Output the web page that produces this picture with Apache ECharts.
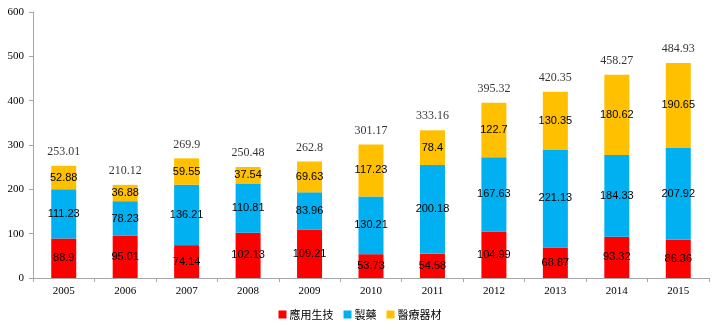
<!DOCTYPE html>
<html>
<head>
<meta charset="utf-8">
<script src="https://cdn.jsdelivr.net/npm/echarts@6/dist/echarts.min.js"></script>
<style>
  html, body { margin: 0; padding: 0; background: #fff; }
  #chart { width: 720px; height: 333px; }
</style>
</head>
<body>
<div id="chart"></div>
<script>
// Years on the category axis
const years = ['2005', '2006', '2007', '2008', '2009', '2010', '2011', '2012', '2013', '2014', '2015'];

// Segment values per sector
const appliedBiotech = [88.9, 95.01, 74.14, 102.13, 109.21, 53.73, 54.58, 104.99, 68.87, 93.32, 86.36];
const pharma = [111.23, 78.23, 136.21, 110.81, 83.96, 130.21, 200.18, 167.63, 221.13, 184.33, 207.92];
const medDevices = [52.88, 36.88, 59.55, 37.54, 69.63, 117.23, 78.4, 122.7, 130.35, 180.62, 190.65];

// Yearly totals shown above each stack
const totals = [253.01, 210.12, 269.9, 250.48, 262.8, 301.17, 333.16, 395.32, 420.35, 458.27, 484.93];

// Value axis ticks
const yTicks = [0, 100, 200, 300, 400, 500, 600];

const seriesNames = ['應用生技', '製藥', '醫療器材'];
const colors = ['#FF0000', '#00B0F0', '#FFC000'];

const segLabel = {
  show: true,
  position: 'inside',
  color: '#000',
  fontFamily: 'Liberation Sans',
  fontSize: 11
};

function stackSeries(name, data, color) {
  return {
    name: name,
    type: 'bar',
    stack: 'total',
    barWidth: 25,
    data: data,
    itemStyle: { color: color },
    label: segLabel,
    emphasis: { disabled: true }
  };
}

const chart = echarts.init(document.getElementById('chart'), null, { renderer: 'canvas' });

chart.setOption({
  animation: false,
  grid: { left: 33, right: 11, top: 12, bottom: 55, containLabel: false },
  legend: {
    data: seriesNames.map((n, i) => ({ name: n, itemStyle: { color: colors[i] } })),
    bottom: 8,
    left: 'center',
    itemWidth: 8,
    itemHeight: 8,
    itemGap: 10,
    icon: 'rect',
    textStyle: { fontFamily: 'Noto Sans CJK TC', fontSize: 11, color: '#000', padding: [0, 0, 0, -2] }
  },
  xAxis: {
    type: 'category',
    data: years,
    axisLine: { lineStyle: { color: '#A6A6A6' } },
    axisTick: { show: true, length: 4, lineStyle: { color: '#A6A6A6' } },
    axisLabel: { color: '#000', fontFamily: 'Liberation Serif', fontSize: 11, margin: 8 }
  },
  yAxis: {
    type: 'value',
    min: yTicks[0],
    max: yTicks[yTicks.length - 1],
    interval: yTicks[1] - yTicks[0],
    splitLine: { show: false },
    axisLine: { show: true, lineStyle: { color: '#A6A6A6' } },
    axisTick: { show: true, length: 4, lineStyle: { color: '#A6A6A6' } },
    axisLabel: { color: '#000', fontFamily: 'Liberation Serif', fontSize: 11, margin: 9 }
  },
  series: [
    stackSeries(seriesNames[0], appliedBiotech, colors[0]),
    stackSeries(seriesNames[1], pharma, colors[1]),
    stackSeries(seriesNames[2], medDevices, colors[2]),
    {
      name: 'totalLabels',
      type: 'scatter',
      data: totals,
      symbolSize: 0,
      silent: true,
      label: {
        show: true,
        position: 'top',
        distance: 8,
        color: '#000',
        fontFamily: 'Liberation Serif',
        fontSize: 12
      }
    }
  ]
});
</script>
</body>
</html>
